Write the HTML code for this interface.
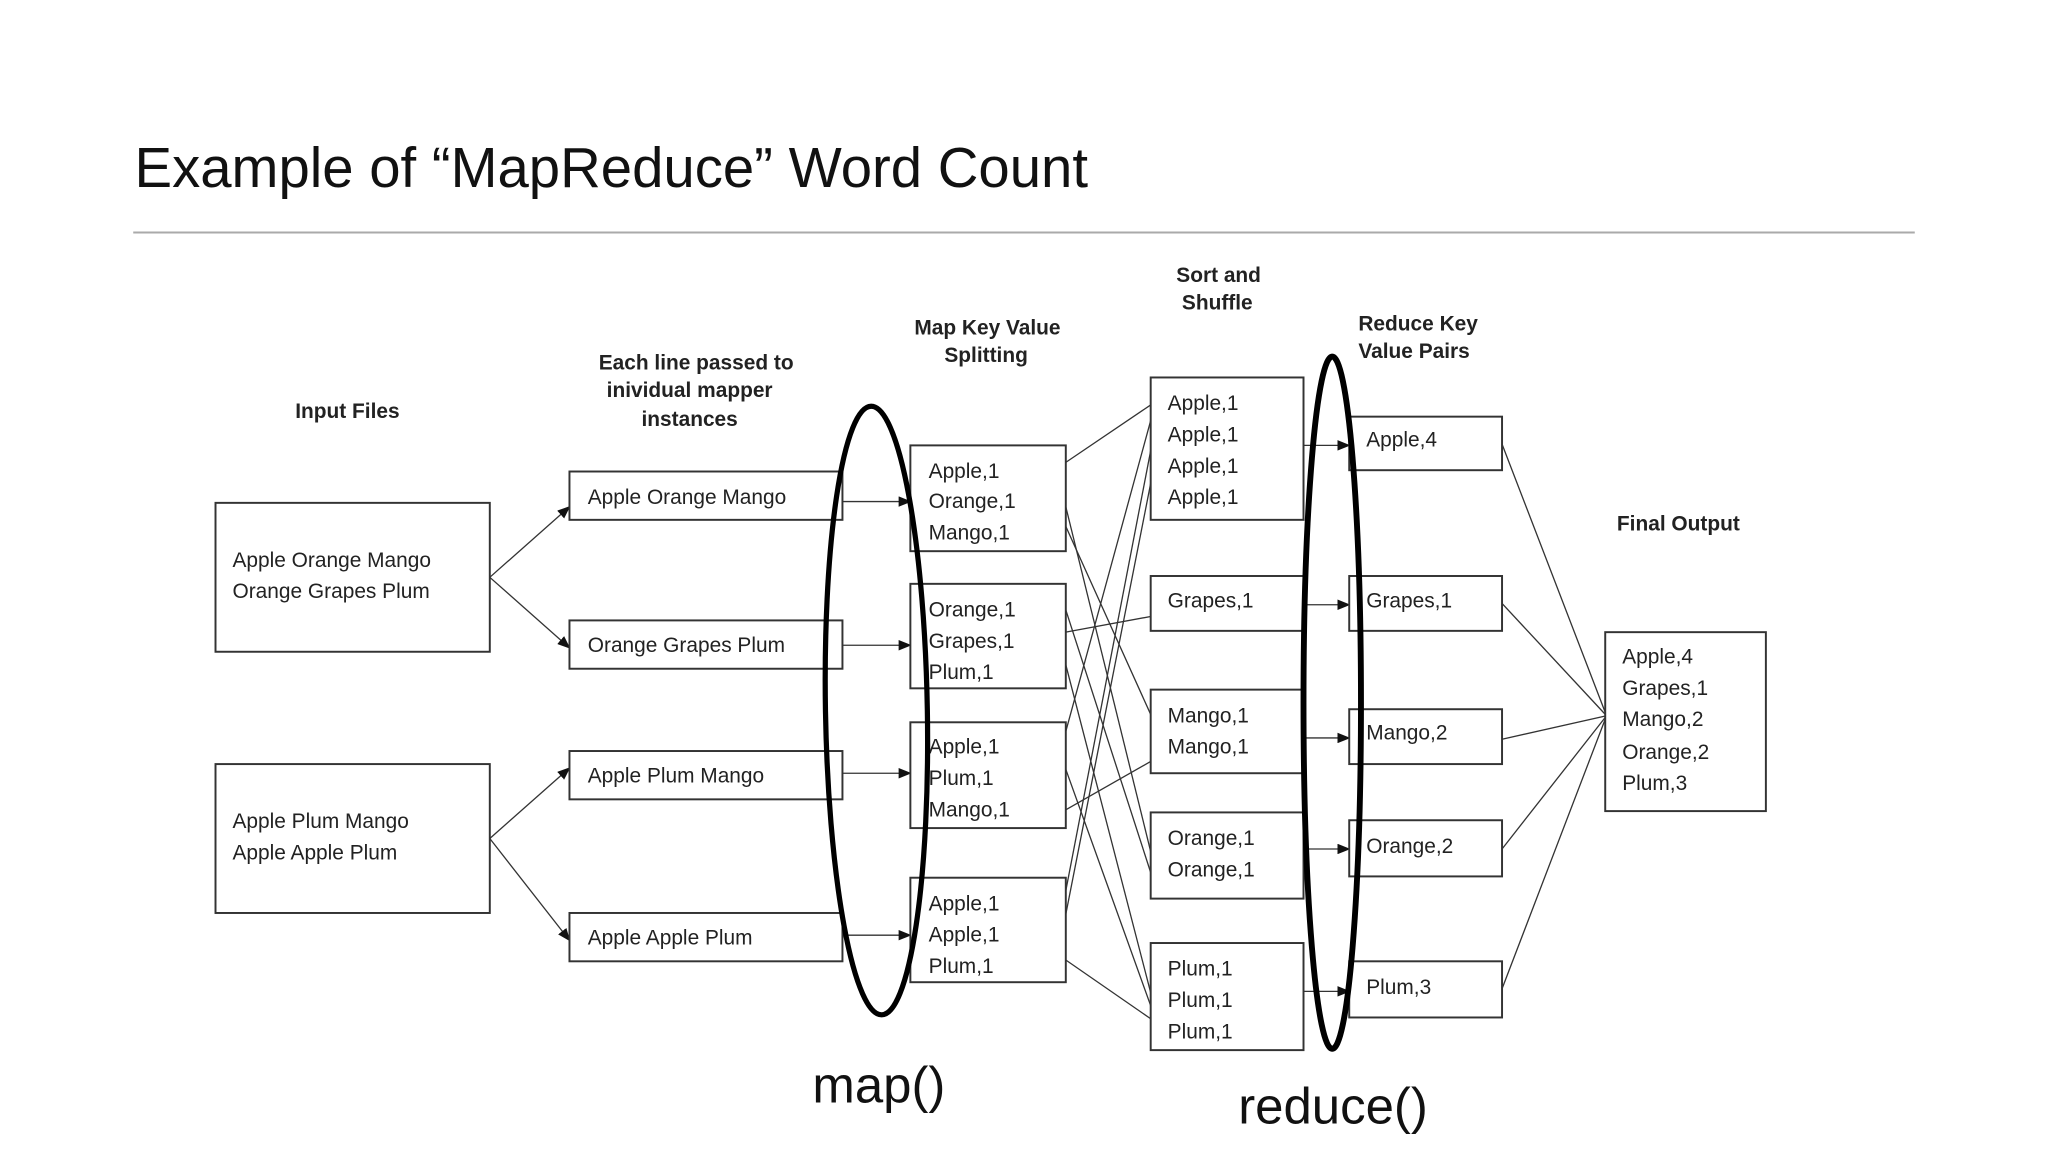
<!DOCTYPE html>
<html><head><meta charset="utf-8"><style>
html,body{margin:0;padding:0;background:#fff;width:2048px;height:1152px;overflow:hidden}
svg{display:block}
.t{font-family:"Liberation Sans",sans-serif;font-size:16px;fill:#222}
.b{font-family:"Liberation Sans",sans-serif;font-size:16px;font-weight:bold;fill:#222}
rect{fill:#fff;stroke:#333;stroke-width:1.5}
.l{stroke:#333;stroke-width:1;fill:none}
</style></head><body>
<svg width="2048" height="1152" viewBox="0 0 1568 882" preserveAspectRatio="none">
<defs><marker id="a" markerWidth="10" markerHeight="8" refX="9" refY="4" orient="auto" markerUnits="userSpaceOnUse"><path d="M0,0L10,4L0,8z" fill="#111"/></marker></defs>
<text x="103" y="143" font-family="Liberation Sans,sans-serif" font-size="43" fill="#111" textLength="730" lengthAdjust="spacingAndGlyphs">Example of “MapReduce” Word Count</text>
<line x1="102" y1="178" x2="1466" y2="178" stroke="#aaa" stroke-width="1.5"/>

<text class="b" x="266" y="320" text-anchor="middle">Input Files</text>
<text class="b" x="533" y="283" text-anchor="middle">Each line passed to</text>
<text class="b" x="528" y="304" text-anchor="middle">inividual mapper</text>
<text class="b" x="528" y="326" text-anchor="middle">instances</text>
<text class="b" x="756" y="256" text-anchor="middle">Map Key Value</text>
<text class="b" x="755" y="277" text-anchor="middle">Splitting</text>
<text class="b" x="933" y="216" text-anchor="middle">Sort and</text>
<text class="b" x="932" y="237" text-anchor="middle">Shuffle</text>
<text class="b" x="1040" y="253">Reduce Key</text>
<text class="b" x="1040" y="274">Value Pairs</text>
<text class="b" x="1285" y="406" text-anchor="middle">Final Output</text>

<rect x="165" y="385" width="210" height="114"/>
<text class="t" x="178" y="434">Apple Orange Mango</text><text class="t" x="178" y="458">Orange Grapes Plum</text>
<rect x="165" y="585" width="210" height="114"/>
<text class="t" x="178" y="634">Apple Plum Mango</text><text class="t" x="178" y="658">Apple Apple Plum</text>

<line class="l" x1="375" y1="442" x2="436" y2="388" marker-end="url(#a)"/>
<line class="l" x1="375" y1="442" x2="436" y2="496" marker-end="url(#a)"/>
<line class="l" x1="375" y1="642" x2="436" y2="588" marker-end="url(#a)"/>
<line class="l" x1="375" y1="642" x2="436" y2="720" marker-end="url(#a)"/>

<rect x="436" y="361" width="209" height="37"/><text class="t" x="450" y="386">Apple Orange Mango</text>
<rect x="436" y="475" width="209" height="37"/><text class="t" x="450" y="499">Orange Grapes Plum</text>
<rect x="436" y="575" width="209" height="37"/><text class="t" x="450" y="599">Apple Plum Mango</text>
<rect x="436" y="699" width="209" height="37"/><text class="t" x="450" y="723">Apple Apple Plum</text>

<line class="l" x1="645" y1="384" x2="697" y2="384" marker-end="url(#a)"/>
<line class="l" x1="645" y1="494" x2="697" y2="494" marker-end="url(#a)"/>
<line class="l" x1="645" y1="592" x2="697" y2="592" marker-end="url(#a)"/>
<line class="l" x1="645" y1="716" x2="697" y2="716" marker-end="url(#a)"/>

<rect x="697" y="341" width="119" height="81"/>
<text class="t" x="711" y="366">Apple,1</text><text class="t" x="711" y="389">Orange,1</text><text class="t" x="711" y="413">Mango,1</text>
<rect x="697" y="447" width="119" height="80"/>
<text class="t" x="711" y="472">Orange,1</text><text class="t" x="711" y="496">Grapes,1</text><text class="t" x="711" y="520">Plum,1</text>
<rect x="697" y="553" width="119" height="81"/>
<text class="t" x="711" y="577">Apple,1</text><text class="t" x="711" y="601">Plum,1</text><text class="t" x="711" y="625">Mango,1</text>
<rect x="697" y="672" width="119" height="80"/>
<text class="t" x="711" y="697">Apple,1</text><text class="t" x="711" y="721">Apple,1</text><text class="t" x="711" y="745">Plum,1</text>

<g class="l">
<line x1="816" y1="354" x2="881" y2="310"/>
<line x1="816" y1="388" x2="881" y2="652"/>
<line x1="816" y1="403" x2="881" y2="547"/>
<line x1="816" y1="484" x2="881" y2="472"/>
<line x1="816" y1="467" x2="881" y2="668"/>
<line x1="816" y1="509" x2="881" y2="760"/>
<line x1="816" y1="560" x2="881" y2="322"/>
<line x1="816" y1="589" x2="881" y2="770"/>
<line x1="816" y1="620" x2="881" y2="583"/>
<line x1="816" y1="682" x2="881" y2="345"/>
<line x1="816" y1="700" x2="881" y2="370"/>
<line x1="816" y1="735" x2="881" y2="780"/>
</g>

<rect x="881" y="289" width="117" height="109"/>
<text class="t" x="894" y="314">Apple,1</text><text class="t" x="894" y="338">Apple,1</text><text class="t" x="894" y="362">Apple,1</text><text class="t" x="894" y="386">Apple,1</text>
<rect x="881" y="441" width="117" height="42"/><text class="t" x="894" y="465">Grapes,1</text>
<rect x="881" y="528" width="117" height="64"/>
<text class="t" x="894" y="553">Mango,1</text><text class="t" x="894" y="577">Mango,1</text>
<rect x="881" y="622" width="117" height="66"/>
<text class="t" x="894" y="647">Orange,1</text><text class="t" x="894" y="671">Orange,1</text>
<rect x="881" y="722" width="117" height="82"/>
<text class="t" x="894" y="747">Plum,1</text><text class="t" x="894" y="771">Plum,1</text><text class="t" x="894" y="795">Plum,1</text>

<line class="l" x1="998" y1="341" x2="1033" y2="341" marker-end="url(#a)"/>
<line class="l" x1="998" y1="463" x2="1033" y2="463" marker-end="url(#a)"/>
<line class="l" x1="998" y1="565" x2="1033" y2="565" marker-end="url(#a)"/>
<line class="l" x1="998" y1="650" x2="1033" y2="650" marker-end="url(#a)"/>
<line class="l" x1="998" y1="759" x2="1033" y2="759" marker-end="url(#a)"/>

<rect x="1033" y="319" width="117" height="41"/><text class="t" x="1046" y="342">Apple,4</text>
<rect x="1033" y="441" width="117" height="42"/><text class="t" x="1046" y="465">Grapes,1</text>
<rect x="1033" y="543" width="117" height="42"/><text class="t" x="1046" y="566">Mango,2</text>
<rect x="1033" y="628" width="117" height="43"/><text class="t" x="1046" y="653">Orange,2</text>
<rect x="1033" y="736" width="117" height="43"/><text class="t" x="1046" y="761">Plum,3</text>

<g class="l">
<line x1="1150" y1="340" x2="1230" y2="548"/>
<line x1="1150" y1="462" x2="1230" y2="548"/>
<line x1="1150" y1="566" x2="1230" y2="548"/>
<line x1="1150" y1="650" x2="1230" y2="548"/>
<line x1="1150" y1="757" x2="1230" y2="548"/>
</g>

<rect x="1229" y="484" width="123" height="137"/>
<text class="t" x="1242" y="508">Apple,4</text><text class="t" x="1242" y="532">Grapes,1</text><text class="t" x="1242" y="556">Mango,2</text><text class="t" x="1242" y="581">Orange,2</text><text class="t" x="1242" y="605">Plum,3</text>

<ellipse cx="671" cy="544" rx="39" ry="233" fill="none" stroke="#000" stroke-width="4" transform="rotate(-1 671 544)"/>
<ellipse cx="1020" cy="538" rx="22" ry="265" fill="none" stroke="#000" stroke-width="4.5"/>

<text x="622" y="844" font-family="Liberation Sans,sans-serif" font-size="39" fill="#111">map()</text>
<text x="948" y="860" font-family="Liberation Sans,sans-serif" font-size="39" fill="#111">reduce()</text>
</svg>
</body></html>
